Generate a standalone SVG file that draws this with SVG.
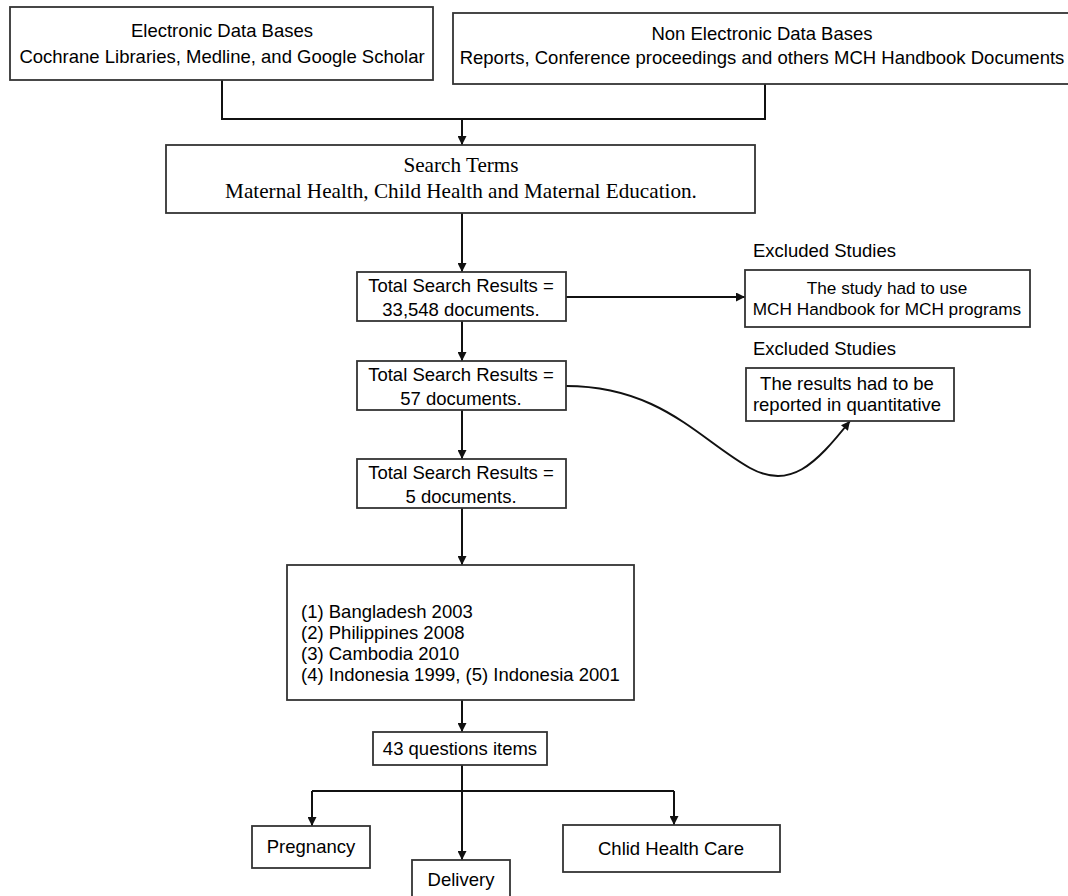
<svg xmlns="http://www.w3.org/2000/svg" width="1068" height="896" viewBox="0 0 1068 896">
  <defs>
    <marker id="arrow" viewBox="0 0 10 10" refX="10" refY="5" markerWidth="9" markerHeight="9" markerUnits="userSpaceOnUse" orient="auto">
      <path d="M0,0 L10,5 L0,10 z" fill="#111"/>
    </marker>
    <style>
      .box { fill: #fff; stroke: #333; stroke-width: 1.8; }
      .t { font-family: "Liberation Sans", Arial, sans-serif; font-size: 18.5px; fill: #000; }
      .c { text-anchor: middle; }
      .s { font-size: 17.2px; }
      .serif { font-family: "Liberation Serif", "Times New Roman", serif; font-size: 21.2px; fill: #000; text-anchor: middle; }
      .wire { fill: none; stroke: #111; stroke-width: 2; }
    </style>
  </defs>
  <rect width="1068" height="896" fill="#fff"/>

  <!-- connectors -->
  <g id="connectors">
    <polyline class="wire" points="222,80 222,119 765,119 765,84"/>
    <line class="wire" x1="462" y1="119" x2="462" y2="145" marker-end="url(#arrow)"/>
    <line class="wire" x1="462" y1="213" x2="462" y2="272" marker-end="url(#arrow)"/>
    <line class="wire" x1="462" y1="321" x2="462" y2="361" marker-end="url(#arrow)"/>
    <line class="wire" x1="462" y1="410" x2="462" y2="459" marker-end="url(#arrow)"/>
    <line class="wire" x1="462" y1="508" x2="462" y2="565" marker-end="url(#arrow)"/>
    <line class="wire" x1="462" y1="700" x2="462" y2="732" marker-end="url(#arrow)"/>
    <line class="wire" x1="566" y1="297" x2="745" y2="297" marker-end="url(#arrow)"/>
    <path class="wire" d="M566,386 C660,386 700,440 750,468 C790,490 815,465 850,421" marker-end="url(#arrow)"/>
    <!-- branching to the three question groups -->
    <polyline class="wire" points="462,765 462,791"/>
    <line class="wire" x1="312" y1="791" x2="674" y2="791"/>
    <line class="wire" x1="312" y1="791" x2="312" y2="826" marker-end="url(#arrow)"/>
    <line class="wire" x1="462" y1="791" x2="462" y2="860" marker-end="url(#arrow)"/>
    <line class="wire" x1="674" y1="791" x2="674" y2="825" marker-end="url(#arrow)"/>
  </g>

  <g id="electronic-db">
    <rect class="box" x="10" y="7" width="423" height="73"/>
    <text class="t c" x="222" y="37">Electronic Data Bases</text>
    <text class="t c" x="222" y="63">Cochrane Libraries, Medline, and Google Scholar</text>
  </g>

  <g id="non-electronic-db">
    <rect class="box" x="453" y="13" width="620" height="71"/>
    <text class="t c" x="762" y="40">Non Electronic Data Bases</text>
    <text class="t c" x="762" y="64">Reports, Conference proceedings and others MCH Handbook Documents</text>
  </g>

  <g id="search-terms">
    <rect class="box" x="166" y="145" width="589" height="68"/>
    <text class="serif" x="461" y="172">Search Terms</text>
    <text class="serif" x="461" y="198">Maternal Health, Child Health and Maternal Education.</text>
  </g>

  <g id="results-33548">
    <rect class="box" x="357" y="272" width="209" height="49"/>
    <text class="t c" x="461" y="292">Total Search Results =</text>
    <text class="t c" x="461" y="316">33,548 documents.</text>
  </g>

  <g id="results-57">
    <rect class="box" x="357" y="361" width="209" height="49"/>
    <text class="t c" x="461" y="381">Total Search Results =</text>
    <text class="t c" x="461" y="405">57 documents.</text>
  </g>

  <g id="results-5">
    <rect class="box" x="357" y="459" width="209" height="49"/>
    <text class="t c" x="461" y="479">Total Search Results =</text>
    <text class="t c" x="461" y="503">5 documents.</text>
  </g>

  <g id="excluded-1">
    <text class="t" x="753" y="257">Excluded Studies</text>
    <rect class="box" x="745" y="270" width="285" height="57"/>
    <text class="t s c" x="887" y="294">The study had to use</text>
    <text class="t s c" x="887" y="315">MCH Handbook for MCH programs</text>
  </g>

  <g id="excluded-2">
    <text class="t" x="753" y="355">Excluded Studies</text>
    <rect class="box" x="746" y="368" width="208" height="53"/>
    <text class="t c" x="847" y="390">The results had to be</text>
    <text class="t c" x="847" y="411">reported in quantitative</text>
  </g>

  <g id="countries">
    <rect class="box" x="287" y="565" width="347" height="135"/>
    <text class="t" x="301" y="618">(1) Bangladesh 2003</text>
    <text class="t" x="301" y="639">(2) Philippines 2008</text>
    <text class="t" x="301" y="660">(3) Cambodia 2010</text>
    <text class="t" x="301" y="681">(4) Indonesia 1999, (5) Indonesia 2001</text>
  </g>

  <g id="question-items">
    <rect class="box" x="373" y="732" width="174" height="33"/>
    <text class="t c" x="460" y="755">43 questions items</text>
  </g>

  <g id="pregnancy">
    <rect class="box" x="252" y="826" width="118" height="42"/>
    <text class="t c" x="311" y="853">Pregnancy</text>
  </g>

  <g id="delivery">
    <rect class="box" x="412" y="860" width="98" height="40"/>
    <text class="t c" x="461" y="886">Delivery</text>
  </g>

  <g id="child-health-care">
    <rect class="box" x="563" y="825" width="217" height="47"/>
    <text class="t c" x="671" y="855">Chlid Health Care</text>
  </g>
</svg>
